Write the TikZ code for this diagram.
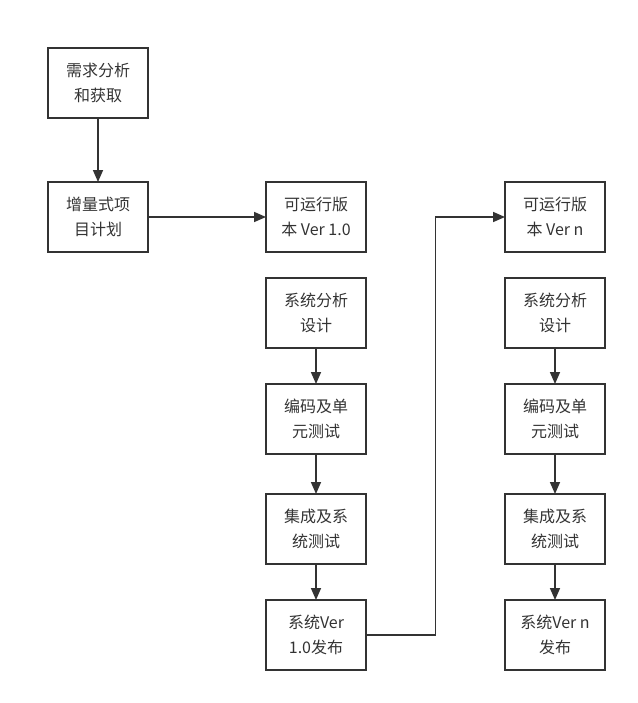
\documentclass[tikz,border=0pt]{standalone}
\usepackage{fontspec}
\setmainfont{Noto Sans CJK SC}
\usetikzlibrary{arrows.meta, positioning}
\definecolor{ink}{HTML}{333333}
\begin{document}
\begin{tikzpicture}[font=\fontsize{12}{18.5}\selectfont,
  stage/.style={
    draw=ink,
    text=ink,
    line width=1.5pt,
    rectangle,
    minimum width=75pt,
    minimum height=52.5pt,
    inner sep=0pt,
    outer sep=0pt,
    align=center
  },
  line/.style={-{Triangle[length=9pt,width=7.5pt]}, line width=1.2pt, draw=ink},
  node distance=27pt
  ]

\useasboundingbox (0,0) rectangle (477.75pt,-527.25pt);

% Start
\node[stage, anchor=north west] (req) at (36pt,-36pt) {需求分析\\和获取};
\node[stage, below=48pt of req] (plan) {增量式项\\目计划};

% Version 1.0
\node[stage, right=88.5pt of plan] (ver1) {可运行版\\本 Ver 1.0};
\node[stage, below=19.5pt of ver1] (sa1) {系统分析\\设计};
\node[stage, below=of sa1] (code1) {编码及单\\元测试};
\node[stage, below=30pt of code1] (test1) {集成及系\\统测试};
\node[stage, below=of test1] (rel1) {系统Ver\\1.0发布};

% Version n
\node[stage, right=104.25pt of ver1] (vern) {可运行版\\本 Ver n};
\node[stage, below=19.5pt of vern] (san) {系统分析\\设计};
\node[stage, below=of san] (coden) {编码及单\\元测试};
\node[stage, below=30pt of coden] (testn) {集成及系\\统测试};
\node[stage, below=of testn] (reln) {系统Ver n\\发布};

% Arrows
\draw[line] (req) -- (plan);
\draw[line] (plan) -- (ver1);
\draw[line] (sa1) -- (code1);
\draw[line] (code1) -- (test1);
\draw[line] (test1) -- (rel1);
\draw[line] (rel1.east) -- ++(52pt,0) |- (vern.west);
\draw[line] (san) -- (coden);
\draw[line] (coden) -- (testn);
\draw[line] (testn) -- (reln);

\end{tikzpicture}
\end{document}
